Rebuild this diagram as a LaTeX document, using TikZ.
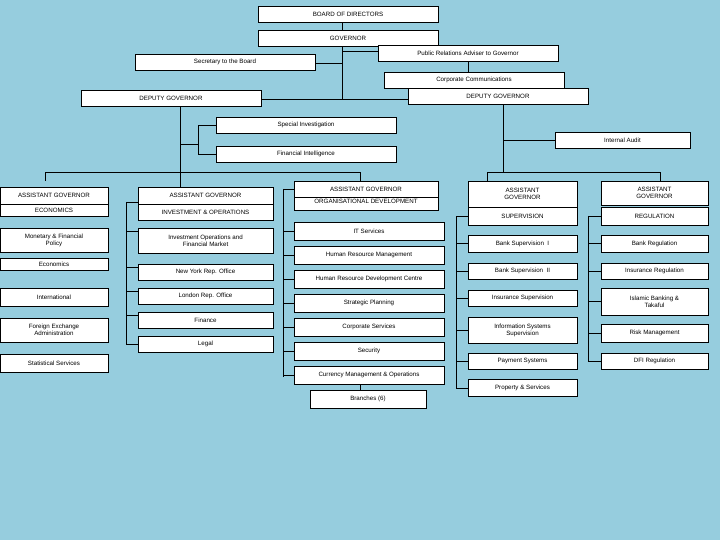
\documentclass[tikz,border=0pt]{standalone}
\usepackage{fontspec}
\setmainfont{Liberation Sans}
\definecolor{bg}{RGB}{150,205,222}
\tikzset{bx/.style={draw=black,fill=white,line width=0.7pt,inner sep=0pt,align=center,font=\fontsize{6.2}{7.2}\selectfont},
ln/.style={line width=0.8pt}}
\newcommand\bx[6]{\node[bx,minimum width={(#4-#2)*1pt},minimum height={(#5-#3)*1pt}] (#1) at ({(#2+#4)/2},{(#3+#5)/2}) {#6};}
\begin{document}
\begin{tikzpicture}[x=1pt,y=-1pt]
\fill[bg] (0,0) rectangle (720,540);
\useasboundingbox (0,0) rectangle (720,540);
% connectors first
\coordinate (gv) at (342,99);
\draw[ln] (342,22) -- (342,30);
\draw[ln] (342,46) -- (gv) -- (408,99);
\draw[ln] (342,51) -- (378,51);
\draw[ln] (315,63) -- (342,63);
\draw[ln] (261,99) -- (342,99);
\draw[ln] (468,61) -- (468,72);
\draw[ln] (180,106) -- (180,172);
\draw[ln] (180,144) -- (198,144);
\draw[ln] (216,125) -- (198,125) -- (198,154) -- (216,154);
\draw[ln] (503,104) -- (503,172);
\draw[ln] (503,140) -- (555,140);
\draw[ln] (45,181) -- (45,172) -- (360,172) -- (360,181);
\draw[ln] (180,172) -- (180,187);
\draw[ln] (487,181) -- (487,172) -- (660,172) -- (660,181);
% boxes
\bx{bod}{258}{6}{438}{22}{BOARD OF DIRECTORS}
\bx{gov}{258}{30}{438}{46}{GOVERNOR}
\bx{pr}{378}{45}{558}{61}{Public Relations Adviser to Governor}
\bx{sec}{135}{54}{315}{70}{Secretary to the Board}
\bx{cc}{384}{72}{564}{88}{Corporate Communications}
\bx{dgl}{81}{90}{261}{106}{DEPUTY GOVERNOR}
\bx{dgr}{408}{88}{588}{104}{DEPUTY GOVERNOR}
\bx{si}{216}{117}{396}{133}{Special Investigation}
\bx{fi}{216}{146}{396}{162}{Financial Intelligence}
\bx{ia}{555}{132}{690}{148}{Internal Audit}
% economics
\bx{age}{0}{187}{108}{204}{ASSISTANT GOVERNOR}
\bx{eco}{0}{204}{108}{216}{ECONOMICS}
\bx{mfp}{0}{228}{108}{252}{Monetary \& Financial\\Policy}
\bx{econ}{0}{258}{108}{270}{Economics}
\bx{intl}{0}{288}{108}{306}{International}
\bx{fx}{0}{318}{108}{342}{Foreign Exchange\\Administration}
\bx{stat}{0}{354}{108}{372}{Statistical Services}
% investment
\draw[ln] (126,202) -- (126,344);
\foreach \y in {202,231,267,291,315}{\draw[ln] (126,\y) -- (138,\y);}
\draw[ln] (126,344) -- (138,344);
\bx{agi}{138}{187}{273}{204}{ASSISTANT GOVERNOR}
\bx{inv}{138}{204}{273}{220}{INVESTMENT \& OPERATIONS}
\bx{ioa}{138}{228}{273}{253}{Investment Operations and\\Financial Market}
\bx{ny}{138}{264}{273}{280}{New York Rep. Office}
\bx{lon}{138}{288}{273}{304}{London Rep. Office}
\bx{fin}{138}{312}{273}{328}{Finance}
\bx{leg}{138}{336}{273}{352}{Legal}
% org dev
\draw[ln] (283,189) -- (283,377);
\foreach \y in {189,231,255,279,303,327,351,375}{\draw[ln] (283,\y) -- (294,\y);}
\draw[ln] (360,384) -- (360,390);
\bx{agod}{294}{181}{438}{210}{}
\node[font=\fontsize{6.2}{7.2}\selectfont] (odt) at (366,201) {ORGANISATIONAL DEVELOPMENT};
\bx{ago}{294}{181}{438}{197}{ASSISTANT GOVERNOR}
\bx{it}{294}{222}{444}{240}{IT Services}
\bx{hrm}{294}{246}{444}{264}{Human Resource Management}
\bx{hrdc}{294}{270}{444}{288}{Human Resource Development Centre}
\bx{sp}{294}{294}{444}{312}{Strategic Planning}
\bx{cs}{294}{318}{444}{336}{Corporate Services}
\bx{secu}{294}{342}{444}{360}{Security}
\bx{cmo}{294}{366}{444}{384}{Currency Management \& Operations}
\bx{br}{310}{390}{426}{408}{Branches (6)}
% supervision
\draw[ln] (456,217) -- (456,388);
\foreach \y in {216,243,271,298,330,361,388}{\draw[ln] (456,\y) -- (468,\y);}
\bx{ags}{468}{181}{577}{207}{ASSISTANT\\GOVERNOR}
\bx{sup}{468}{207}{577}{225}{SUPERVISION}
\bx{bs1}{468}{235}{577}{252}{Bank Supervision\ \ I}
\bx{bs2}{468}{263}{577}{279}{Bank Supervision\ \ II}
\bx{ins}{468}{290}{577}{306}{Insurance Supervision}
\bx{iss}{468}{317}{577}{343}{Information Systems\\Supervision}
\bx{ps}{468}{353}{577}{369}{Payment Systems}
\bx{prop}{468}{379}{577}{396}{Property \& Services}
% regulation
\draw[ln] (588,216) -- (588,361);
\foreach \y in {216,243,271,301,333,361}{\draw[ln] (588,\y) -- (601,\y);}
\bx{agr}{601}{181}{708}{205}{ASSISTANT\\GOVERNOR}
\bx{reg}{601}{207}{708}{225}{REGULATION}
\bx{brg}{601}{235}{708}{252}{Bank Regulation}
\bx{irg}{601}{263}{708}{279}{Insurance Regulation}
\bx{isl}{601}{288}{708}{315}{Islamic Banking \&\\Takaful}
\bx{risk}{601}{324}{708}{342}{Risk Management}
\bx{dfi}{601}{353}{708}{369}{DFI Regulation}
\end{tikzpicture}
\end{document}
